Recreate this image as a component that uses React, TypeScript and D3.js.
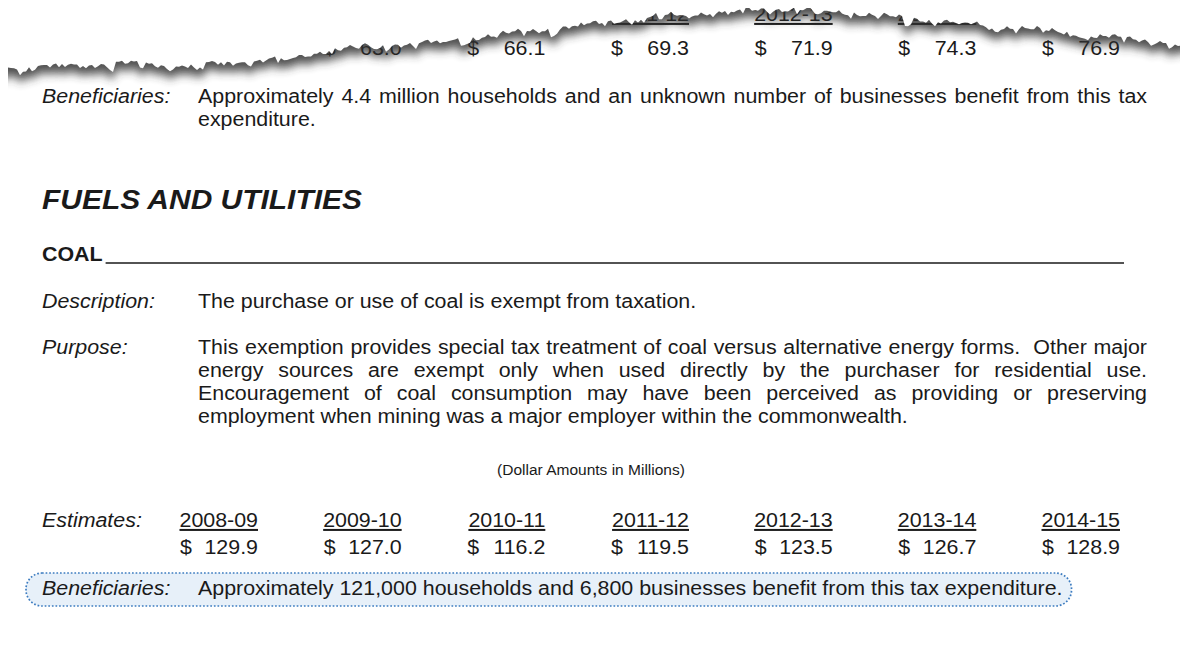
import { useRef, useEffect } from "react";
import * as d3 from "d3";

// fiscal years and estimates (dollar amounts in millions)
const years = ["2008-09", "2009-10", "2010-11", "2011-12", "2012-13", "2013-14", "2014-15"];
const coalEstimates = [129.9, 127.0, 116.2, 119.5, 123.5, 126.7, 128.9];

// the torn-off table of the previous item (left part lost under the tear)
const prevYears = ["2009-10", "2010-11", "2011-12", "2012-13", "2013-14", "2014-15"];
const prevEstimates = [63.0, 66.1, 69.3, 71.9, 74.3, 76.9];

const prevBeneficiaries = [
  "Approximately 4.4 million households and an unknown number of businesses benefit from this tax",
  "expenditure.",
];
const purposeLines = [
  "This exemption provides special tax treatment of coal versus alternative energy forms.  Other major",
  "energy sources are exempt only when used directly by the purchaser for residential use.",
  "Encouragement of coal consumption may have been perceived as providing or preserving",
  "employment when mining was a major employer within the commonwealth.",
];
const description = "The purchase or use of coal is exempt from taxation.";
const coalBeneficiaries =
  "Approximately 121,000 households and 6,800 businesses benefit from this tax expenditure.";

const W = 1188;
const H = 656;
const FONT = "'Liberation Sans', Arial, sans-serif";
const INK = "#1a1a1a";
const HS = 1.07; // the scanned page is a little wider than tall

const useD3 = (renderFn, deps) => {
  const ref = useRef(null);
  useEffect(() => {
    const svg = d3.select(ref.current);
    svg.selectAll("*").remove();
    renderFn(svg);
  }, deps);
  return ref;
};

export default function App() {
  const ref = useD3((svg) => {
    const fmt = d3.format(".1f");
    const labelX = 42;
    const textX = 198;
    const rightX = 1147;
    const fs = 20;

    const defs = svg.append("defs");
    const sh = defs.append("filter").attr("id", "tearShadow")
      .attr("filterUnits", "userSpaceOnUse")
      .attr("x", -20).attr("y", -20).attr("width", W + 40).attr("height", 140);
    sh.append("feGaussianBlur").attr("stdDeviation", 5);
    defs.append("filter").attr("id", "edgeBlur").append("feGaussianBlur").attr("stdDeviation", 1.2);

    svg.append("rect").attr("width", W).attr("height", H).attr("fill", "#fff");

    // left edge of the page
    svg.append("line")
      .attr("x1", 9).attr("x2", 9).attr("y1", 60).attr("y2", H)
      .attr("stroke", "#d0d0d0").attr("stroke-width", 2.5)
      .attr("filter", "url(#edgeBlur)");

    const boxLayer = svg.append("g");
    const page = svg.append("g").attr("font-family", FONT).attr("fill", INK);

    // every text sits in a group stretched by HS, returns its drawn width
    const addText = (x, y, str, opts: any = {}) => {
      const g = page.append("g").attr("transform", `translate(${x},${y}) scale(${HS},1)`);
      const t = g.append("text").attr("font-size", opts.size || fs).style("white-space", "pre").text(str);
      if (opts.italic) t.attr("font-style", "italic");
      if (opts.bold) t.attr("font-weight", "bold");
      if (opts.anchor) t.attr("text-anchor", opts.anchor);
      if (opts.underline) t.attr("text-decoration", "underline");
      let len = (t.node() as SVGTextElement).getComputedTextLength();
      if (opts.justify) {
        const spaces = (str.match(/ /g) || []).length;
        const extra = (opts.justify / HS - len) / spaces;
        if (extra > 0) t.attr("word-spacing", extra);
        len = opts.justify / HS;
      }
      return len * HS;
    };

    // column right edges shared by both tables
    const col = d3.scalePoint().domain(years).range([258, 1120]);
    const colW = 78;

    // --- torn-off previous table (partly hidden under the tear)
    prevYears.forEach((yr, i) => {
      addText(col(yr), 21, yr, { anchor: "end", underline: true });
      addText(col(yr) - colW, 55, "$");
      addText(col(yr), 55, fmt(prevEstimates[i]), { anchor: "end" });
    });

    addText(labelX, 103, "Beneficiaries:", { italic: true });
    addText(textX, 103, prevBeneficiaries[0], { justify: rightX - textX });
    addText(textX, 126, prevBeneficiaries[1]);

    // --- section heading
    addText(labelX, 209, "FUELS AND UTILITIES", { size: 28, bold: true, italic: true });
    const coalW = addText(labelX, 261, "COAL", { bold: true });
    page.append("line")
      .attr("x1", labelX + coalW + 3).attr("x2", 1124).attr("y1", 263).attr("y2", 263)
      .attr("stroke", INK).attr("stroke-width", 1.4);

    addText(labelX, 308, "Description:", { italic: true });
    addText(textX, 308, description);

    addText(labelX, 354, "Purpose:", { italic: true });
    purposeLines.forEach((ln, i) => {
      addText(textX, 354 + i * 23, ln, i < purposeLines.length - 1 ? { justify: rightX - textX } : {});
    });

    addText(591, 475, "(Dollar Amounts in Millions)", { size: 14.5, anchor: "middle" });

    // --- estimates table
    addText(labelX, 527, "Estimates:", { italic: true });
    years.forEach((yr, i) => {
      addText(col(yr), 527, yr, { anchor: "end", underline: true });
      addText(col(yr) - colW, 554, "$");
      addText(col(yr), 554, fmt(coalEstimates[i]), { anchor: "end" });
    });

    // --- highlighted beneficiaries line
    addText(labelX, 595, "Beneficiaries:", { italic: true });
    const benW = addText(textX, 595, coalBeneficiaries);
    boxLayer.append("rect")
      .attr("x", 26).attr("y", 573).attr("width", textX + benW + 9 - 26).attr("height", 33)
      .attr("rx", 16).attr("ry", 16)
      .attr("fill", "#e7f0f9")
      .attr("stroke", "#3d7cc0").attr("stroke-width", 1.7)
      .attr("stroke-dasharray", "1.7,1.9");

    // --- torn edge of the page above
    const profile: [number, number][] = [
      [0, 68], [60, 66], [120, 63], [180, 66], [240, 62], [290, 58], [330, 50], [370, 46],
      [400, 44], [440, 42], [480, 37], [520, 32], [560, 28], [600, 23], [640, 18], [690, 14],
      [730, 11], [770, 9], [830, 11], [880, 16], [930, 20], [980, 25], [1030, 29], [1080, 34],
      [1130, 39], [1188, 44],
    ];
    const edgeY = d3.scaleLinear().domain(profile.map((d) => d[0])).range(profile.map((d) => d[1])).clamp(true);
    const pts: [number, number][] = d3.range(-4, W + 8, 3).map((x) => {
      const jag =
        1.5 * Math.sin(x * 0.41) + 1.0 * Math.sin(x * 1.27 + 1) + 1.6 * Math.sin(x * 0.083) +
        (Math.sin(x * 0.23 + 0.5) > 0.9 ? 3.5 : 0) + (Math.sin(x * 0.071) > 0.96 ? 4 : 0);
      return [x, edgeY(x) + jag];
    });
    const cover = d3.line()([[-10, -10], ...pts, [W + 10, -10]]) + "Z";

    svg.append("path").attr("d", cover).attr("fill", "#333").attr("opacity", 0.85)
      .attr("transform", "translate(0,8)").attr("filter", "url(#tearShadow)");
    svg.append("path").attr("d", cover).attr("fill", "#fff");
  }, []);

  return (
    <svg ref={ref} width={W} height={H} style={{ display: "block", margin: "-8px 0 0 -8px" }} />
  );
}
